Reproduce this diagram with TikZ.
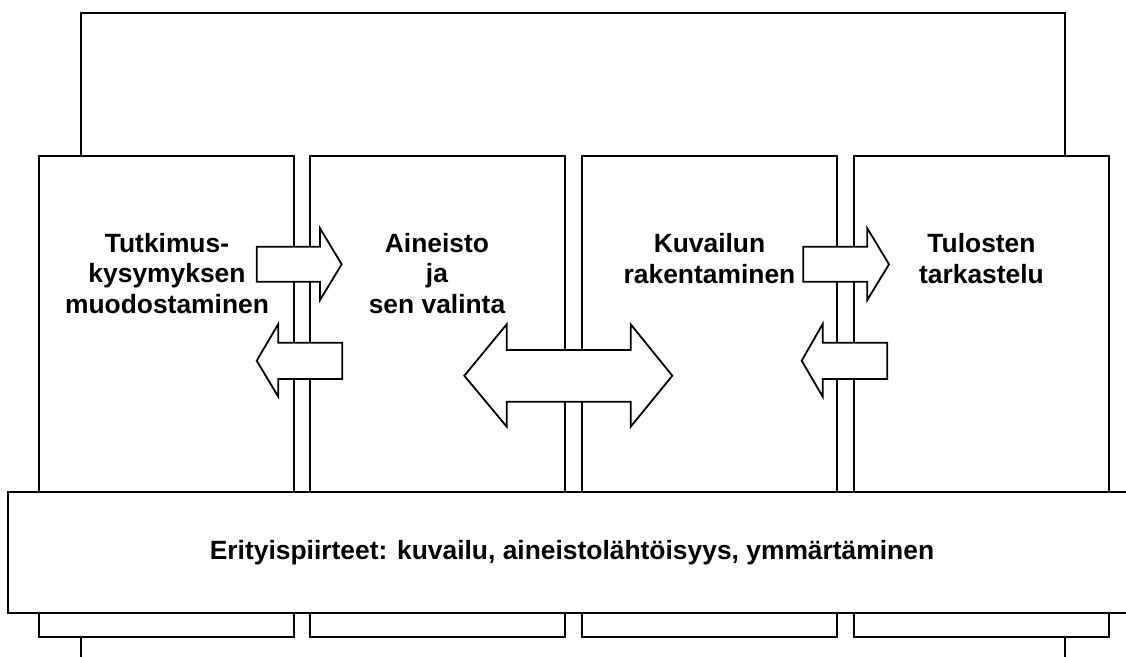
\documentclass[tikz,border=0pt]{standalone}
\usepackage{fontspec}
\setmainfont{Liberation Sans}
\begin{document}
\begin{tikzpicture}[x=1pt,y=-1pt, line width=2pt, line join=miter,
  box/.style={draw=black, fill=white},
  blockarrow/.style={draw=black, fill=white, line width=1.8pt},
  lbl/.style={font=\bfseries\fontsize{26.4}{30.3}\selectfont, align=center, anchor=base, inner sep=0pt}]
\useasboundingbox (0,0) rectangle (1126,656);
% outer frame
\draw (80.5,680) -- (80.5,12.5) -- (1065,12.5) -- (1065,680);
% columns
\draw[box] (39,156) rectangle (294,636.5);
\draw[box] (309.5,156) rectangle (565,636.5);
\draw[box] (582,156) rectangle (837.3,636.5);
\draw[box] (854,156) rectangle (1109,636.5);
% bottom band
\draw[box] (8.3,492.3) rectangle (1140,612.7);
\node[lbl] (band) at (572,559) {Erityispiirteet: kuvailu, aineistolähtöisyys, ymmärtäminen};
% arrows
\draw[blockarrow] (256.7,246.7) -- (320,246.7) -- (320,228.3) -- (341.7,264.3) -- (320,300) -- (320,281.7) -- (256.7,281.7) -- cycle;
\draw[blockarrow] (342.3,342.7) -- (278.3,342.7) -- (278.3,324) -- (256.7,360.7) -- (278.3,396.7) -- (278.3,379) -- (342.3,379) -- cycle;
\draw[blockarrow] (506.7,350) -- (630.7,350) -- (630.7,324.3) -- (672.3,375.7) -- (630.7,426.7) -- (630.7,401.7) -- (506.7,401.7) -- (506.7,426.7) -- (464.3,375.7) -- (506.7,324.3) -- cycle;
\draw[blockarrow] (803.3,246.7) -- (867.3,246.7) -- (867.3,228.3) -- (889,264.3) -- (867.3,300) -- (867.3,281.7) -- (803.3,281.7) -- cycle;
\draw[blockarrow] (887.3,342.7) -- (822.7,342.7) -- (822.7,324) -- (801.7,360.7) -- (822.7,396.7) -- (822.7,379) -- (887.3,379) -- cycle;
% labels (anchor = baseline of last line)
\node[lbl] (t1) at (167,313) {Tutkimus-\\kysymyksen\\muodostaminen};
\node[lbl] (t2) at (437,313) {Aineisto\\ja\\sen valinta};
\node[lbl] (t3) at (709.5,283) {Kuvailun\\rakentaminen};
\node[lbl] (t4) at (981.5,283) {Tulosten\\tarkastelu};
\end{tikzpicture}
\end{document}
